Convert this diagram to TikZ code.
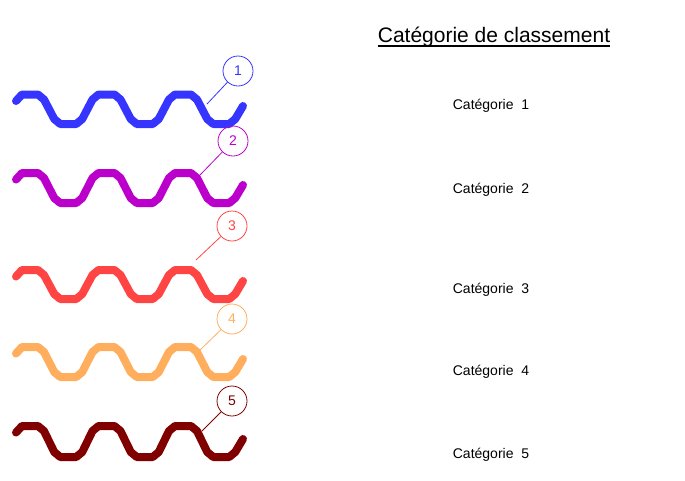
\documentclass[tikz,border=0pt]{standalone}
\usepackage{fontspec}
\setmainfont{Liberation Sans}
\definecolor{cA}{HTML}{3535FF}
\definecolor{cB}{HTML}{BB00CC}
\definecolor{cC}{HTML}{FF4444}
\definecolor{cD}{HTML}{FFAE5E}
\definecolor{cE}{HTML}{800000}
\tikzset{
  wavepath/.style={line width=8pt, line cap=round, line join=round},
  numcirc/.style={circle, draw, line width=0.8pt, minimum size=30pt, inner sep=0pt, font=\fontsize{14}{16}\selectfont},
  leader/.style={line width=0.8pt},
  catlabel/.style={font=\fontsize{14}{16}\selectfont, inner sep=0pt, anchor=base},
}
\newcommand{\mywave}[3]{%
  \draw[wavepath,#3] (16,{#1+6.5})
  \foreach \k in {0,1,2}{
    -- ({22+76.5*\k},#1) -- ({38+76.5*\k},#1) -- ({44+76.5*\k},{#1+5})
    -- ({54.25+76.5*\k},{#2-5}) -- ({60.25+76.5*\k},#2) -- ({76.25+76.5*\k},#2)
    -- ({82.25+76.5*\k},{#2-5})
    \ifnum\k<2 -- ({92.5+76.5*\k},{#1+5}) \fi
  }
  -- ({243},{#2-18});
}
\begin{document}
\begin{tikzpicture}[x=1pt,y=-1pt]
\useasboundingbox (0,0) rectangle (685,480);
\mywave{94.5}{124}{cA}
\mywave{173}{203}{cB}
\mywave{270}{299}{cC}
\mywave{347}{377}{cD}
\mywave{426}{457}{cE}
\coordinate (w1) at (207,104);
\coordinate (w2) at (200,175);
\coordinate (w3) at (196,260);
\coordinate (w4) at (200,350);
\coordinate (w5) at (202,431);
\node[numcirc,cA] (c1) at (238,71) {1};
\node[numcirc,cB] (c2) at (233,141) {2};
\node[numcirc,cC] (c3) at (232,226) {3};
\node[numcirc,cD] (c4) at (232,319) {4};
\node[numcirc,cE] (c5) at (232,401) {5};
\draw[leader,cA] (c1) -- (w1);
\draw[leader,cB] (c2) -- (w2);
\draw[leader,cC] (c3) -- (w3);
\draw[leader,cD] (c4) -- (w4);
\draw[leader,cE] (c5) -- (w5);
\node[font=\fontsize{21}{25}\selectfont, inner sep=0pt, anchor=base] (title) at (494,42.5) {Catégorie de classement};
\draw[line width=1.3pt] ([yshift=-3.5pt]title.base west) -- ([yshift=-3.5pt]title.base east);
\node[catlabel] (k1) at (491,109.5) {Catégorie\ \ 1};
\node[catlabel] (k2) at (491,193.5) {Catégorie\ \ 2};
\node[catlabel] (k3) at (491,293.5) {Catégorie\ \ 3};
\node[catlabel] (k4) at (491,375.5) {Catégorie\ \ 4};
\node[catlabel] (k5) at (491,458.5) {Catégorie\ \ 5};
\end{tikzpicture}
\end{document}
